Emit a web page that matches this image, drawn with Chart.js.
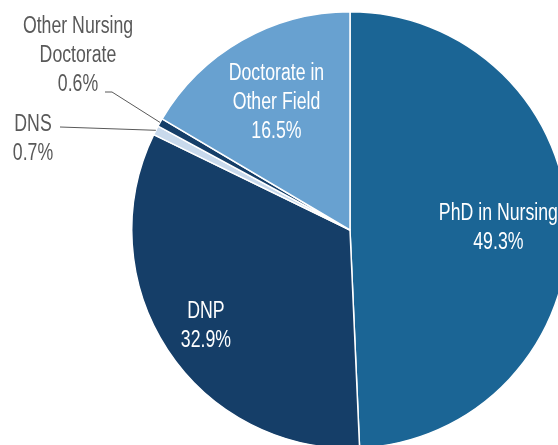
<!DOCTYPE html>
<html>
<head>
<meta charset="utf-8">
<script src="https://cdn.jsdelivr.net/npm/chart.js@4/dist/chart.umd.min.js"></script>
<style>
  html, body { margin: 0; padding: 0; background: #fff; }
  #wrap { position: relative; width: 558px; height: 445px; overflow: hidden; }
  #degreeChart { position: absolute; left: 0; top: 0; }
</style>
</head>
<body>
<div id="wrap"><canvas id="degreeChart" width="700" height="460"></canvas></div>
<script>
// Data (clockwise from 12 o'clock)
const categories = [
    ['PhD in Nursing'],
    ['DNP'],
    ['DNS'],
    ['Other Nursing', 'Doctorate'],
    ['Doctorate in', 'Other Field']
];
const shares = [49.3, 32.9, 0.7, 0.6, 16.5];
const sliceColors = ['#1b6595', '#153e68', '#c8d9ec', '#153e68', '#68a1d0'];

const FONT = "23px 'Liberation Sans', Arial, sans-serif";
const NARROW = 0.77; // squeeze text horizontally to get a condensed look
const LINE_H = 29;

// labels drawn inside the slices: index -> fraction of the radius
const insideLabels = { 0: 0.68, 1: 0.79, 4: 0.68 };
// labels drawn outside with a leader line
const outsideLabels = [
    { index: 3, x: 78, y: 25, line: [[105, 92], [112, 92]] },
    { index: 2, x: 33, y: 123, line: [[60, 127]] }
];

function narrowText(ctx, text, x, y) {
    ctx.save();
    ctx.translate(x, y + 1.5);
    ctx.scale(NARROW, 1);
    ctx.fillText(text, 0, 0);
    ctx.restore();
}

const labelPlugin = {
    id: 'sliceLabels',
    afterDatasetsDraw(chart) {
        const ctx = chart.ctx;
        const meta = chart.getDatasetMeta(0);
        ctx.save();
        ctx.font = FONT;
        ctx.textAlign = 'center';
        ctx.textBaseline = 'middle';

        Object.keys(insideLabels).forEach(k => {
            const i = Number(k);
            const arc = meta.data[i];
            const mid = (arc.startAngle + arc.endAngle) / 2;
            const r = arc.outerRadius * insideLabels[k];
            const cx = arc.x + Math.cos(mid) * r;
            const cy = arc.y + Math.sin(mid) * r;
            const lines = categories[i].concat([shares[i].toFixed(1) + '%']);
            const y0 = cy - (lines.length - 1) * LINE_H / 2;
            ctx.fillStyle = '#ffffff';
            lines.forEach((t, j) => narrowText(ctx, t, cx, y0 + j * LINE_H));
        });

        outsideLabels.forEach(o => {
            const arc = meta.data[o.index];
            const mid = (arc.startAngle + arc.endAngle) / 2;
            const ex = arc.x + Math.cos(mid) * arc.outerRadius;
            const ey = arc.y + Math.sin(mid) * arc.outerRadius;
            ctx.strokeStyle = '#595959';
            ctx.lineWidth = 1;
            ctx.beginPath();
            ctx.moveTo(o.line[0][0], o.line[0][1]);
            o.line.slice(1).forEach(p => ctx.lineTo(p[0], p[1]));
            ctx.lineTo(ex, ey);
            ctx.stroke();

            const lines = categories[o.index].concat([shares[o.index].toFixed(1) + '%']);
            ctx.fillStyle = '#595959';
            lines.forEach((t, j) => narrowText(ctx, t, o.x, o.y + j * LINE_H));
        });
        ctx.restore();
    }
};

new Chart(document.getElementById('degreeChart'), {
    type: 'pie',
    data: {
        labels: categories,
        datasets: [{
            data: shares,
            backgroundColor: sliceColors,
            borderColor: '#ffffff',
            borderWidth: 1.5
        }]
    },
    options: {
        responsive: false,
        animation: false,
        layout: { padding: { left: 131, right: 131, top: 11, bottom: 11 } },
        plugins: {
            legend: { display: false },
            tooltip: { enabled: false }
        }
    },
    plugins: [labelPlugin]
});
</script>
</body>
</html>
